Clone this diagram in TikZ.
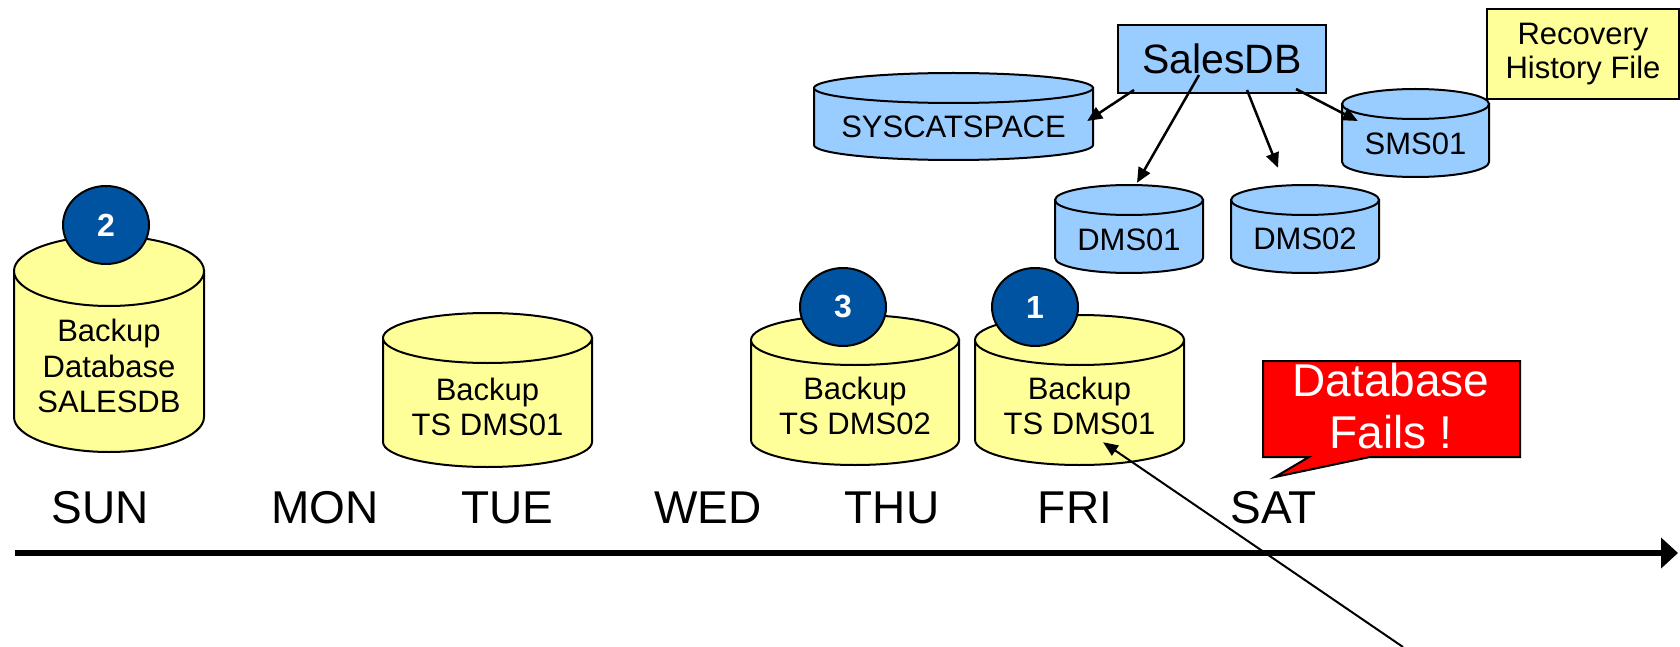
\documentclass[tikz,border=0pt]{standalone}
\usepackage{fontspec}
\setmainfont{Liberation Sans}
\usetikzlibrary{arrows.meta,calc,shapes.geometric}

\definecolor{cylyellow}{HTML}{FFFF99}
\definecolor{cylblue}{HTML}{99CCFF}
\definecolor{numblue}{HTML}{0053A0}
\definecolor{failred}{HTML}{FF0000}

\tikzset{
  cylline/.style={draw=black, line width=2pt},
  cylframe/.style={rectangle, draw=none, fill=none, inner sep=0pt},
  cyltext/.style={align=center, inner sep=0pt, font=\fontsize{31}{35.5}\selectfont},
  conn/.style={line width=2.5pt, -{Triangle[length=15pt,width=13pt]}},
  failarrow/.style={line width=2pt, -{Triangle[length=15pt,width=12pt]}},
  timeline/.style={line width=5.5pt, -{Triangle[length=17pt,width=30pt]}},
  daylabel/.style={anchor=base, inner sep=0pt, font=\fontsize{46}{50}\selectfont},
  numbadge/.style={ellipse, draw=black, line width=2pt, fill=numblue, text=white,
    font=\bfseries\fontsize{32}{36}\selectfont, minimum width=86pt, minimum height=78pt, inner sep=0pt},
  dbbox/.style={rectangle, draw=black, line width=2pt, inner sep=0pt, align=center},
  failtext/.style={align=center, inner sep=0pt, text=white, font=\fontsize{46}{52}\selectfont}
}

% name, L, R, T, B, ry, fill, text-centre y, text
\newcommand{\dbcyl}[9]{%
  \path[cylline, fill=#7] (#2,#4+#6) -- (#2,#5-#6)
     arc[start angle=180, end angle=0, x radius={(#3-#2)/2}, y radius=#6] -- (#3,#4+#6) -- cycle;
  \path[cylline, fill=#7] ({(#2+#3)/2},#4+#6) ellipse[x radius={(#3-#2)/2}, y radius=#6];
  \node[cylframe, minimum width={(#3-#2)*1pt}, minimum height={(#5-#4)*1pt}] (#1) at ({(#2+#3)/2},{(#4+#5)/2}) {};
  \node[cyltext] (#1-t) at ({(#2+#3)/2},#8) {#9};
}

\begin{document}
\begin{tikzpicture}[x=1pt, y=-1pt]
\useasboundingbox (0,0) rectangle (1680,647);
\fill[white] (0,0) rectangle (1680,647);

% timeline
\coordinate (tlstart) at (15,553);
\coordinate (tlend) at (1678,553);
\draw[timeline] (tlstart) -- (tlend);

% day labels
\node[daylabel] (sun) at (100,523) {SUN};
\node[daylabel] (mon) at (325,523) {MON};
\node[daylabel] (tue) at (507,523) {TUE};
\node[daylabel] (wed) at (708,523) {WED};
\node[daylabel] (thu) at (892,523) {THU};
\node[daylabel] (fri) at (1075,523) {FRI};
\node[daylabel] (sat) at (1274,523) {SAT};

% backup cylinders
\dbcyl{bsun}{14}{204}{236}{452}{35}{cylyellow}{366}{Backup\\Database\\SALESDB}
\dbcyl{btue}{383}{592}{313}{467}{25}{cylyellow}{407}{Backup\\TS DMS01}
\dbcyl{bthu}{751}{959}{315}{465}{25}{cylyellow}{406}{Backup\\TS DMS02}
\dbcyl{bfri}{975}{1184}{315}{465}{25}{cylyellow}{406}{Backup\\TS DMS01}

% numbered badges
\node[numbadge] (n2) at (106,225) {2};
\node[numbadge] (n3) at (843,307) {3};
\node[numbadge] (n1) at (1035,307) {1};

% database structure
\dbcyl{sys}{814}{1093}{73}{160}{15}{cylblue}{127}{SYSCATSPACE}
\dbcyl{dms1}{1055}{1203}{185}{273}{15}{cylblue}{239.5}{DMS01}
\dbcyl{dms2}{1231}{1379}{185}{273}{15}{cylblue}{239}{DMS02}
\dbcyl{sms}{1342}{1489}{89}{177}{15}{cylblue}{144}{SMS01}

\node[dbbox, fill=cylblue, minimum width=208pt, minimum height=68pt,
      font=\fontsize{41}{45}\selectfont] (sales) at (1222,59) {SalesDB};
\node[dbbox, fill=cylyellow, minimum width=192pt, minimum height=90pt,
      font=\fontsize{31}{34}\selectfont] (rhf) at (1583,54) {Recovery\\History File};

\draw[conn] ($(sales.south west)+(17,-4)$) -- ($(sys.east)+(-6,4.5)$);
\draw[conn] ($(sales.center)+(-23,16)$) -- ($(dms1.north)+(8,-2)$);
\draw[conn] ($(sales.south)+(25,-4)$) -- ($(dms2.north)+(-27,-17)$);
\draw[conn] ($(sales.south east)+(-31,-5)$) -- ($(sms.west)+(16,-12)$);

% failure callout
\path[draw=black, line width=2pt, fill=failred, line join=miter]
  (1263,361) -- (1520,361) -- (1520,457) -- (1370,457) -- (1275,477) -- (1309,457) -- (1263,457) -- cycle;
\node[failtext] (fail) at (1391,406) {Database\\Fails !};

% restore arrow
\coordinate (failsrc) at (1403,647);
\draw[failarrow] (failsrc) -- ($(bfri.south)+(23.5,-23)$);
\end{tikzpicture}
\end{document}
